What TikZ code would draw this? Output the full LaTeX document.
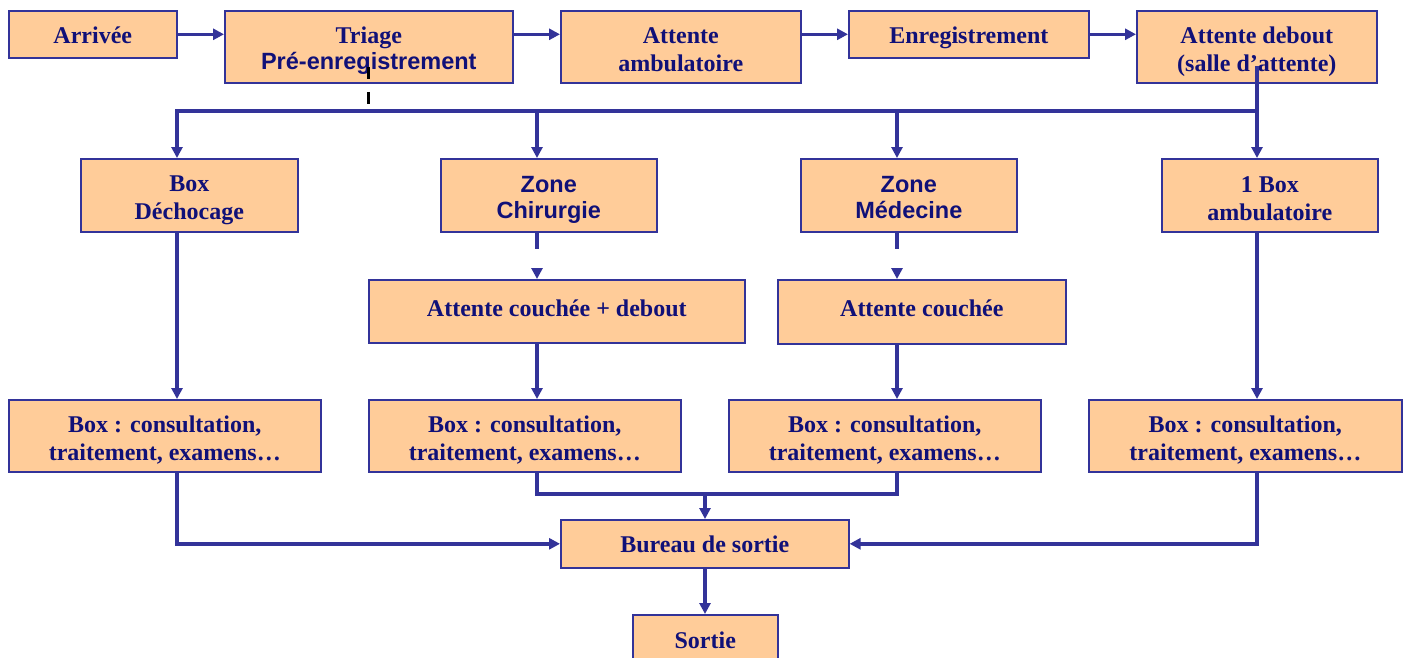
\documentclass[tikz,border=0pt]{standalone}
\usepackage{fontspec}
\setmainfont{Liberation Serif}
\newfontfamily\arialf{Liberation Sans}
\usetikzlibrary{arrows.meta,calc}
\definecolor{peach}{HTML}{FFCC99}
\definecolor{bord}{HTML}{333399}
\definecolor{txtc}{RGB}{16,16,120}
% first-line strut (shifts text down by #1) and last-line strut
\newcommand\ft[1]{\rule[-7pt]{0pt}{\dimexpr14pt+#1pt*2\relax}}
\newcommand\lt{\rule[-7pt]{0pt}{1pt}}
\newcommand\mybox[7][]{\node[box,minimum width=#5,minimum height=#6,#1] (#2) at (#3,#4) {#7};}
\begin{document}
\begin{tikzpicture}[x=1pt,y=-1pt,
 box/.style={draw=bord, line width=1.6pt, fill=peach, text=txtc,
   font=\fontsize{24}{28}\selectfont\bfseries, align=center, inner sep=0pt, anchor=north west},
 sansbox/.style={font=\fontsize{23.5}{26}\selectfont\bfseries\arialf},
 tight/.style={font=\fontsize{24}{26}\selectfont\bfseries},
 conn/.style={draw=bord, line width=3.5pt},
 arr/.style={conn, -{Triangle[length=11pt,width=11pt]}},
 dashblk/.style={draw=black, line width=3pt, dash pattern=on 12pt off 13pt},
 dashblue/.style={arr, dash pattern=on 16pt off 21pt},
]
\clip (0,0) rectangle (1407,658);
\fill[white] (0,0) rectangle (1407,658);
% top row
\mybox{arr}{8}{10}{168}{47}{\ft{9.5}\lt Arrivée}
\mybox[tight]{tri}{224}{10}{288}{72}{\ft{10}Triage\\\lt{\arialf\fontsize{23.5}{26}\selectfont Pré-enregistrement}}
\mybox{aa}{560}{10}{240}{72}{\ft{11}Attente\\\lt ambulatoire}
\mybox{enr}{848}{10}{240}{47}{\ft{9.5}\lt Enregistrement}
\mybox{ad}{1136}{10}{240}{72}{\ft{11}Attente debout\\\lt(salle d’attente)}
% second row
\mybox{dech}{80}{158}{217}{73}{\ft{10.5}Box\\\lt Déchocage}
\mybox[sansbox]{chir}{440}{158}{216}{73}{\ft{10.5}Zone\\\lt Chirurgie}
\mybox[sansbox]{med}{800}{158}{216}{73}{\ft{10.5}Zone\\\lt Médecine}
\mybox{amb}{1161}{158}{216}{73}{\ft{11}1 Box\\\lt ambulatoire}
% third row
\mybox{acd}{368}{279}{376}{63}{\ft{2.5}\lt Attente couchée + debout}
\mybox{ac}{777}{279}{288}{64}{\ft{2}\lt Attente couchée}
% fourth row
\mybox{b1}{8}{399}{312}{72}{\ft{11}Box : consultation,\\\lt traitement, examens…}
\mybox{b2}{368}{399}{312}{72}{\ft{11}Box : consultation,\\\lt traitement, examens…}
\mybox{b3}{728}{399}{312}{72}{\ft{11}Box : consultation,\\\lt traitement, examens…}
\mybox{b4}{1088}{399}{313}{72}{\ft{11}Box : consultation,\\\lt traitement, examens…}
% exit
\mybox{bur}{560}{519}{288}{48}{\ft{9}\lt Bureau de sortie}
\mybox{sor}{632}{614}{145}{56}{\ft{6}\lt Sortie}
% coordinates
\coordinate (c1) at (177,111);
\coordinate (c2) at (537,111);
\coordinate (c3) at (897,111);
\coordinate (c4) at (1257,111);
\coordinate (adin) at (1257,66);
\coordinate (td1) at (368,67);
\coordinate (td2) at (368,106);
\coordinate (m) at (705,494);
% top arrows
\draw[arr] (arr.east) -- (arr.east -| tri.west);
\draw[arr] (arr.east -| tri.east) -- (arr.east -| aa.west);
\draw[arr] (enr.west -| aa.east) -- (enr.west);
\draw[arr] (enr.east) -- (enr.east -| ad.west);
% dashed black from triage
\draw[dashblk] (td1) -- (td2);
% bus
\draw[conn] (c1) -- (c4);
\draw[arr] (c2) -- (c1) -- (c1 |- dech.north);
\draw[arr] (c2) -- (c2 |- chir.north);
\draw[arr] (c3) -- (c3 |- med.north);
\draw[arr] (adin) -- (c4 |- amb.north);
% zones to waiting
\draw[dashblue] (c2 |- chir.south) -- (c2 |- acd.north);
\draw[dashblue] (c3 |- med.south) -- (c3 |- ac.north);
% to boxes
\draw[arr] (c1 |- dech.south) -- (c1 |- b1.north);
\draw[arr] (c2 |- acd.south) -- (c2 |- b2.north);
\draw[arr] (c3 |- ac.south) -- (c3 |- b3.north);
\draw[arr] (c4 |- amb.south) -- (c4 |- b4.north);
% to exit
\draw[conn] (c2 |- b2.south) |- (c3 |- m) -- (c3 |- b3.south);
\draw[arr] (m) -- (m |- bur.north);
\draw[arr] (c1 |- b1.south) |- (bur.west);
\draw[arr] (c4 |- b4.south) |- (bur.east);
\draw[arr] (m |- bur.south) -- (m |- sor.north);
\end{tikzpicture}
\end{document}
